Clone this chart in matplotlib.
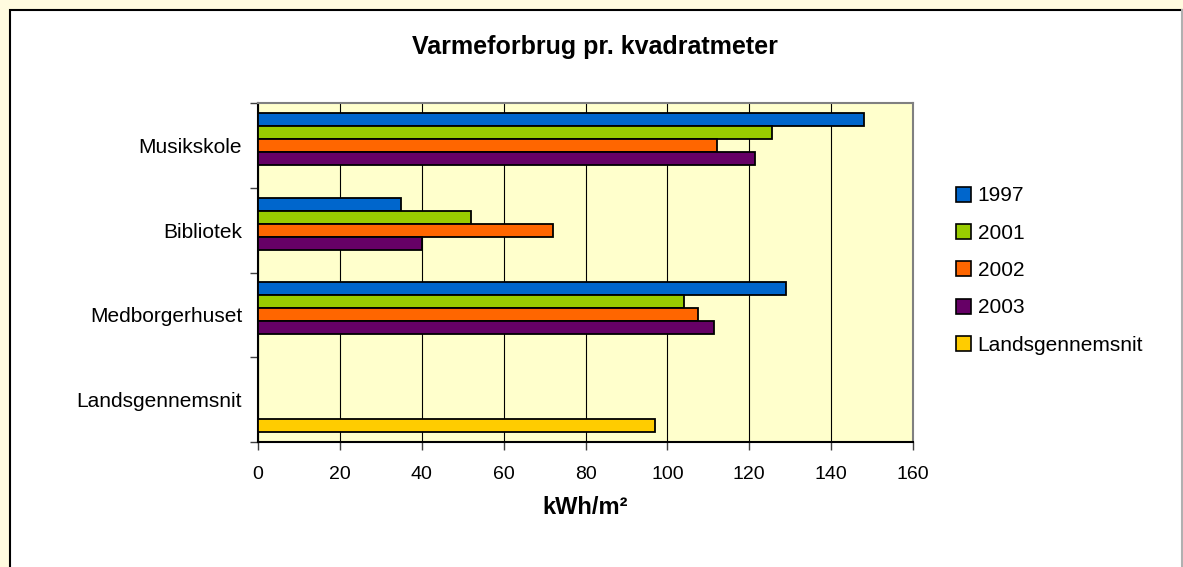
import numpy as np
import matplotlib
matplotlib.use('Agg')
import matplotlib.pyplot as plt
from matplotlib.patches import Rectangle, Patch

plt.rcParams['font.family'] = ['Liberation Sans', 'DejaVu Sans']

categories = ['Musikskole', 'Bibliotek', 'Medborgerhuset', 'Landsgennemsnit']
series_names = ['1997', '2001', '2002', '2003', 'Landsgennemsnit']
v1997 = [148, 35, 129, np.nan]
v2001 = [125.5, 52, 104, np.nan]
v2002 = [112, 72, 107.5, np.nan]
v2003 = [121.5, 40, 111.5, np.nan]
vLands = [np.nan, np.nan, np.nan, 97]
colors = ['#0066CC', '#99CC00', '#FF6600', '#660066', '#FFCC00']

fig = plt.figure(figsize=(11.83, 5.67), dpi=100, facecolor='#FFFBDF')
# white chart area with black frame
fig.patches.append(Rectangle((10 / 1183, -0.1), 1.2, 1 - 10 / 567 + 0.1,
                             transform=fig.transFigure, facecolor='white',
                             edgecolor='black', linewidth=1.5, zorder=-10))
fig.add_artist(plt.Line2D([1181.5 / 1183] * 2, [0, 1 - 10 / 567], transform=fig.transFigure,
                          color='#B0B0B0', linewidth=1.5))

ax = fig.add_axes([258 / 1183, 1 - 442 / 567, 655 / 1183, 339 / 567])
ax.set_facecolor('#FFFFCC')

ypos = np.arange(len(categories))[::-1]  # Musikskole on top
h = 13 / 85
gap = 10 / 85
all_vals = [v1997, v2001, v2002, v2003, vLands]
for i, (name, vals, c) in enumerate(zip(series_names, all_vals, colors)):
    centers = ypos + 0.5 - gap - h * (i + 0.5)
    ax.barh(centers, vals, height=h, color=c, edgecolor='black', linewidth=1.3,
            label=name, zorder=3)

ax.set_xlim(0, 160)
ax.set_ylim(-0.5, 3.5)
ax.set_xticks(np.arange(0, 161, 20))
ax.grid(axis='x', color='black', linewidth=0.8, zorder=1)
ax.set_yticks(np.arange(-0.5, 3.6, 1))
ax.set_yticklabels([])
ax.set_yticks(ypos, labels=categories, minor=True)
ax.tick_params(axis='y', which='minor', length=0, pad=11.5, labelsize=15)
ax.tick_params(axis='y', which='major', length=6, color='#404040', width=1)
ax.tick_params(axis='x', length=6, color='#404040', width=1, labelsize=14, pad=11)

for s in ['top', 'right']:
    ax.spines[s].set_color('#808080')
    ax.spines[s].set_linewidth(1.5)
for s in ['left', 'bottom']:
    ax.spines[s].set_color('black')
    ax.spines[s].set_linewidth(1.5)

ax.set_xlabel('kWh/m²', fontsize=17, fontweight='bold', labelpad=10)
fig.text(0.503, 1 - 47 / 567, 'Varmeforbrug pr. kvadratmeter', ha='center', va='center',
         fontsize=18, fontweight='bold')

handles = [Patch(facecolor=c, edgecolor='black', linewidth=1.2) for c in colors]
fig.legend(handles, series_names, loc='upper left', bbox_to_anchor=(946 / 1183, 1 - 176 / 567),
           frameon=False, fontsize=15, handlelength=0.72, handleheight=0.72,
           handletextpad=0.3, labelspacing=0.88, borderpad=0)

fig.savefig('out.png', dpi=100, facecolor=fig.get_facecolor())
